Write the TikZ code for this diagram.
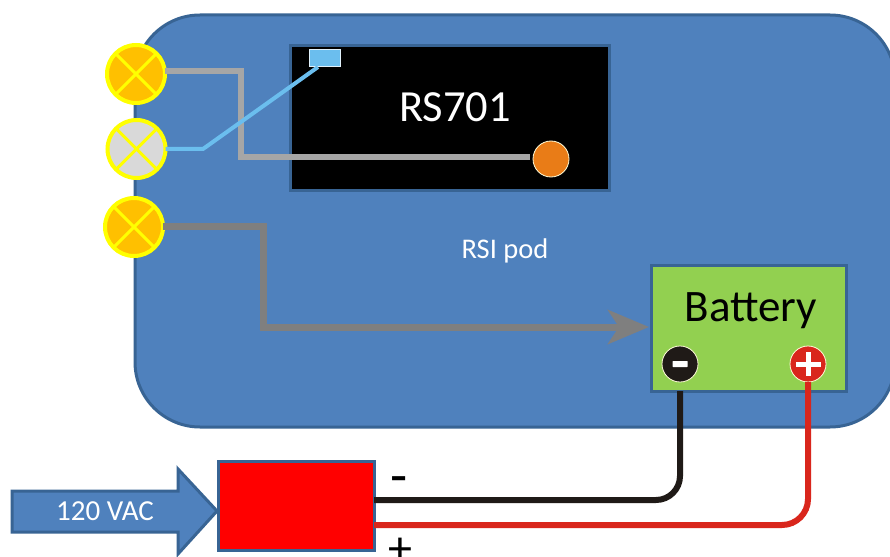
\documentclass[tikz,border=0pt]{standalone}
\usepackage{fontspec}
\setmainfont{Carlito}
\usetikzlibrary{arrows.meta,calc}
\definecolor{podblue}{HTML}{4F81BD}
\definecolor{edgeblue}{HTML}{386494}
\definecolor{lampamber}{HTML}{FFC000}
\definecolor{lampgrey}{HTML}{D9D9D9}
\definecolor{lampring}{HTML}{FFFF00}
\definecolor{wireblue}{HTML}{6BBEEE}
\definecolor{wiregrey}{HTML}{A6A6A6}
\definecolor{wiredark}{HTML}{7F7F7F}
\definecolor{batgreen}{HTML}{92D050}
\definecolor{blk}{HTML}{1F1A17}
\definecolor{redw}{HTML}{D9261C}
\definecolor{orangeb}{HTML}{E97C17}
\newcommand{\fs}[1]{\fontsize{#1}{#1}\selectfont}
\tikzset{
  box/.style={draw=edgeblue,line width=3pt,inner sep=0pt,outer sep=0pt,rectangle},
  lamp/.style={circle,draw=lampring,line width=4pt,minimum size=58pt,inner sep=0pt,outer sep=0pt,fill=#1,
    path picture={
      \draw[lampring,line width=3pt] (path picture bounding box.north west)--(path picture bounding box.south east);
      \draw[lampring,line width=3pt] (path picture bounding box.north east)--(path picture bounding box.south west);}},
  term/.style={circle,minimum size=36pt,inner sep=0pt,outer sep=0pt,draw=white!85!yellow,line width=0.8pt,fill=#1},
  wire/.style={line width=#1,line join=miter},
}
\begin{document}
\begin{tikzpicture}[x=1pt,y=-1pt]
\clip (0,0) rectangle (890,556);
\fill[white] (0,0) rectangle (890,556);
% pod
\node[box,fill=podblue,rounded corners=65pt,minimum width=760pt,minimum height=412pt] (pod) at (515,221) {};
\node[white,font=\fs{28.5}] (podlabel) at (505,251) {RSI pod};
% RS701
\node[box,fill=black,minimum width=319pt,minimum height=144pt] (rs) at (449.5,118) {};
\node[white,font=\fs{44.5}] (rslabel) at (455,107) {RS701};
\node[rectangle,draw=white!80!wireblue,line width=1pt,fill=wireblue,minimum width=31pt,minimum height=17pt,inner sep=0pt,outer sep=0pt] (sensor) at (324.5,58.5) {};
\node[term=orangeb,minimum size=36pt] (orange) at (551,159) {};
% lamps
\node[lamp=lampamber] (L1) at (136,74) {};
\node[lamp=lampgrey] (L2) at (136.5,149) {};
\node[lamp=lampamber] (L3) at (134,227) {};
% battery
\node[box,fill=batgreen,minimum width=195pt,minimum height=126pt] (bat) at (748.5,328) {};
\node[black,font=\fs{45}] (batlabel) at (751,311) {Battery};
\node[term=blk] (neg) at (680,364) {};
\node[term=redw] (pos) at (808,364) {};
\fill[white,rounded corners=0.5pt] (672.5,361) rectangle (687.5,367);
\fill[white] (795.5,361.5) rectangle (820.5,366.5);
\fill[white] (805.5,352) rectangle (810.5,376);
% charger
\node[box,fill=red,minimum width=156pt,minimum height=89pt] (chg) at (296,505.5) {};
\draw[edgeblue,line width=3pt,fill=podblue,line join=miter]
  (12,491)--(178,491)--(178,469)--(217,511)--(178,554)--(178,532)--(12,532)--cycle;
\node[white,font=\fs{29}] (vac) at (105,511) {120 VAC};
\node[black,font=\fs{56}] (minus) at (399,486) {-};
\node[black,font=\fs{48}] (plus) at (400,551) {+};
% wires
\coordinate (g1) at (241,71);
\coordinate (g2) at (241,157);
\draw[wiregrey,wire=6pt,shorten >=3pt] (L1.east |- g1) -- (g1) -- (g2) -- (orange.west |- g2);
\coordinate (b1) at (203,149);
\coordinate (b2) at (318,67);
\draw[wireblue,wire=4pt] (L2.east) -- (b1) -- (b2);
\coordinate (d1) at (263,226);
\coordinate (d2) at (263,327);
\coordinate (d3) at (649,327);
\draw[wiredark,wire=7pt,-{Stealth[length=41pt,width=34pt,inset=11pt,fill=wiredark]}] (L3.east |- d1) -- (d1) -- (d2) -- (d3);
\coordinate (n1) at (neg |- bat.south);
\coordinate (n2) at (679,500);
\coordinate (p2) at (807,525);
\draw[blk,wire=6pt,rounded corners=24pt] (n1) -- (n1 |- n2) -- (chg.east |- n2);
\draw[redw,wire=6pt,rounded corners=26pt] (pos.south) -- (pos.south |- p2) -- (chg.east |- p2);
\end{tikzpicture}
\end{document}
